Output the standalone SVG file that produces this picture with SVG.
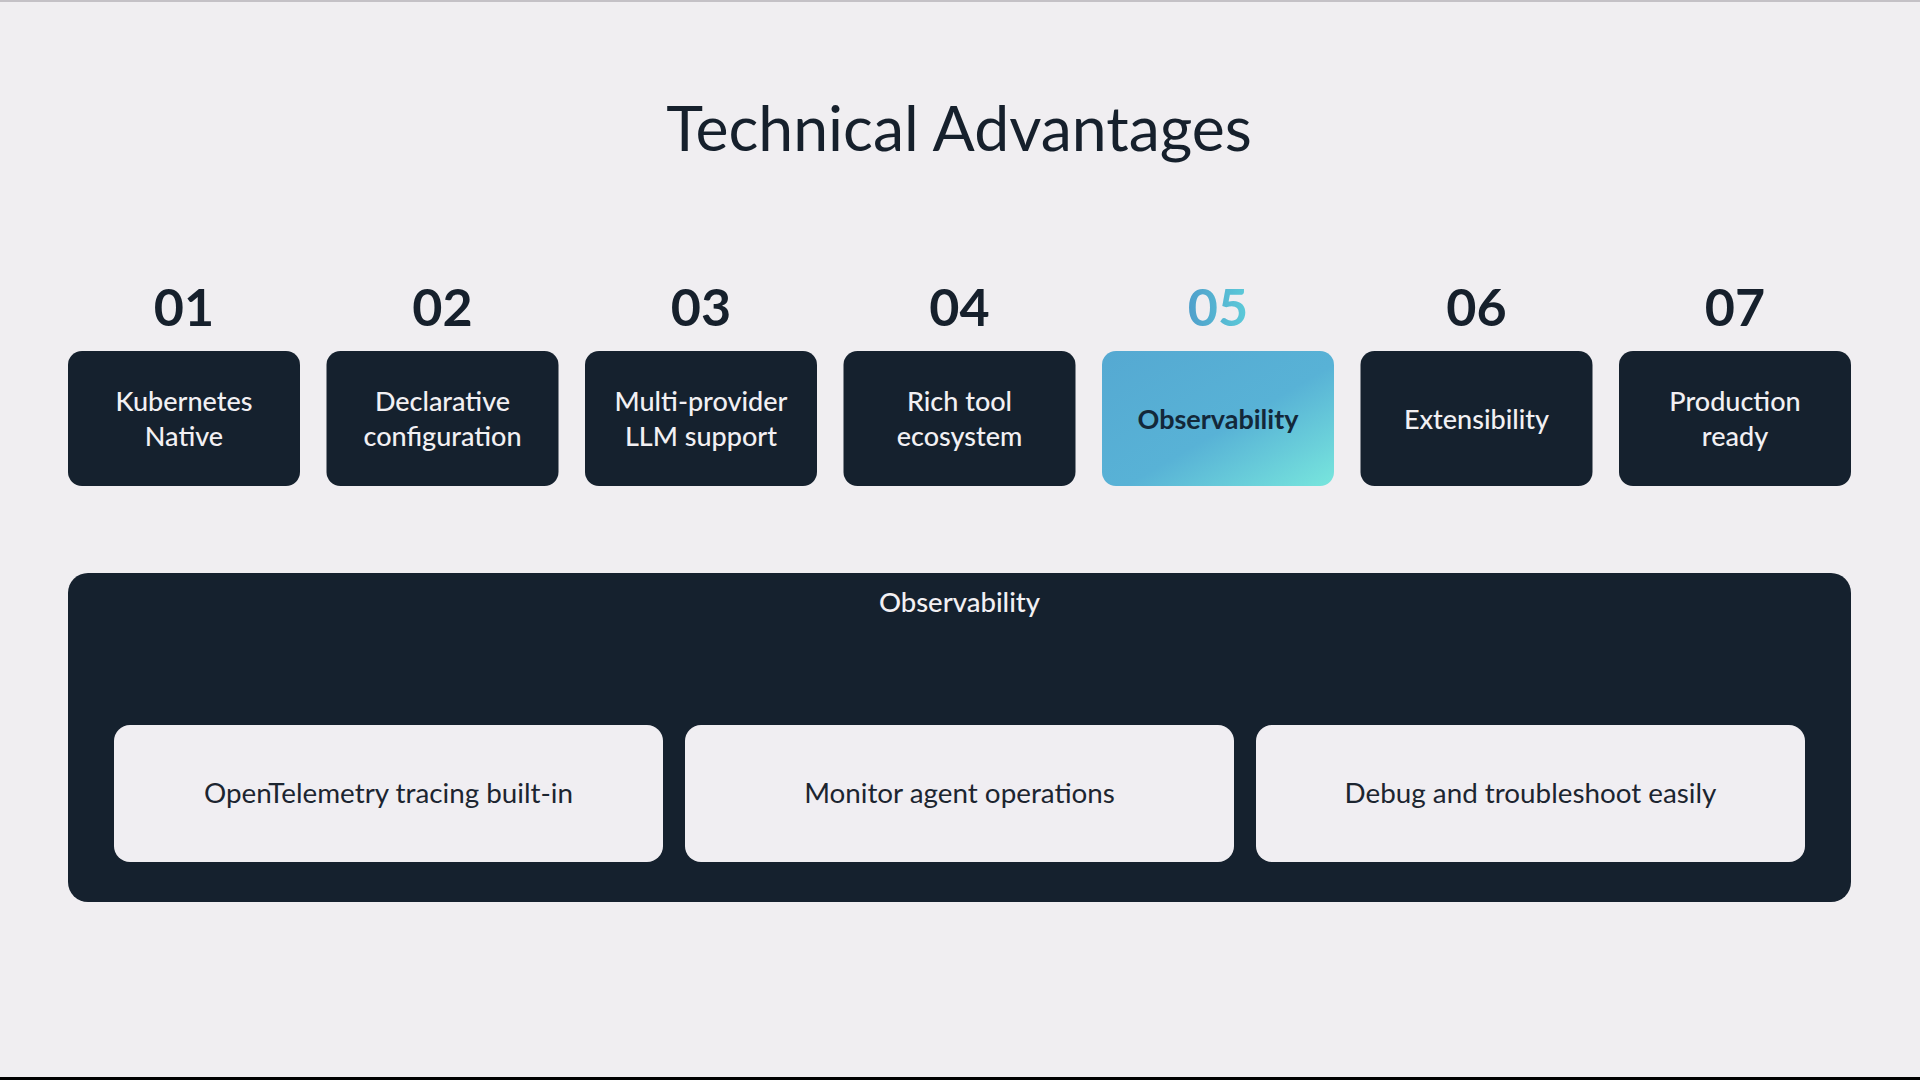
<svg xmlns="http://www.w3.org/2000/svg" width="1920" height="1080" viewBox="0 0 1920 1080">
<defs>
<linearGradient id="hl" x1="0" y1="0" x2="1" y2="1">
<stop offset="0" stop-color="#55a9d2"/>
<stop offset="0.55" stop-color="#58b2d6"/>
<stop offset="1" stop-color="#78e6dd"/>
</linearGradient>
<linearGradient id="hlt" x1="0" y1="0" x2="1" y2="0">
<stop offset="0" stop-color="#4f9fcb"/>
<stop offset="1" stop-color="#5ccbd9"/>
</linearGradient>
<style>
.title{font-family:Lato,"Liberation Sans",sans-serif;font-size:62.5px;fill:#16202c;text-anchor:middle}
.num{font-family:Lato,"Liberation Sans",sans-serif;font-size:52px;font-weight:700;fill:#16202c;text-anchor:middle}
.box{fill:#15212e}
.bt{font-family:Lato,"Liberation Sans",sans-serif;font-size:27px;font-weight:500;fill:#f2f0f3;text-anchor:middle}
.inner{fill:#f0eef2}
.it{font-family:Lato,"Liberation Sans",sans-serif;font-size:27.8px;fill:#1c2530;text-anchor:middle}
</style>
</defs>
<rect width="1920" height="1080" fill="#f0eef1"/>
<rect x="0" y="0" width="1920" height="2" fill="#c4c1c6"/>
<rect x="0" y="1077" width="1920" height="3" fill="#000"/>
<text class="title" x="959" y="151">Technical Advantages</text>

<g id="item1">
<text class="num" x="184" y="326">01</text>
<rect class="box" x="68" y="351" width="232" height="135" rx="14"/>
<text class="bt" x="184" y="410.5">Kubernetes</text>
<text class="bt" x="184" y="446">Native</text>
</g>
<g id="item2">
<text class="num" x="442.5" y="326">02</text>
<rect class="box" x="326.5" y="351" width="232" height="135" rx="14"/>
<text class="bt" x="442.5" y="410.5">Declarative</text>
<text class="bt" x="442.5" y="446">configuration</text>
</g>
<g id="item3">
<text class="num" x="701" y="326">03</text>
<rect class="box" x="585" y="351" width="232" height="135" rx="14"/>
<text class="bt" x="701" y="410.5">Multi-provider</text>
<text class="bt" x="701" y="446">LLM support</text>
</g>
<g id="item4">
<text class="num" x="959.5" y="326">04</text>
<rect class="box" x="843.5" y="351" width="232" height="135" rx="14"/>
<text class="bt" x="959.5" y="410.5">Rich tool</text>
<text class="bt" x="959.5" y="446">ecosystem</text>
</g>
<g id="item5">
<text class="num" x="1218" y="326" style="fill:url(#hlt)">05</text>
<rect x="1102" y="351" width="232" height="135" rx="14" fill="url(#hl)"/>
<text class="bt" x="1218" y="428.5" style="fill:#13283a;font-weight:700">Observability</text>
</g>
<g id="item6">
<text class="num" x="1476.5" y="326">06</text>
<rect class="box" x="1360.5" y="351" width="232" height="135" rx="14"/>
<text class="bt" x="1476.5" y="428.5">Extensibility</text>
</g>
<g id="item7">
<text class="num" x="1735" y="326">07</text>
<rect class="box" x="1619" y="351" width="232" height="135" rx="14"/>
<text class="bt" x="1735" y="410.5">Production</text>
<text class="bt" x="1735" y="446">ready</text>
</g>

<g id="detail-panel">
<rect class="box" x="68" y="573" width="1783" height="329" rx="20"/>
<text class="bt" x="959.5" y="612" style="font-size:27.5px">Observability</text>
</g>
<g id="detail1">
<rect class="inner" x="114" y="725" width="549" height="137" rx="16"/>
<text class="it" x="388.5" y="803">OpenTelemetry tracing built-in</text>
</g>
<g id="detail2">
<rect class="inner" x="685" y="725" width="549" height="137" rx="16"/>
<text class="it" x="959.5" y="803">Monitor agent operations</text>
</g>
<g id="detail3">
<rect class="inner" x="1256" y="725" width="549" height="137" rx="16"/>
<text class="it" x="1530.5" y="803">Debug and troubleshoot easily</text>
</g>
<g id="connectors"/>
</svg>
